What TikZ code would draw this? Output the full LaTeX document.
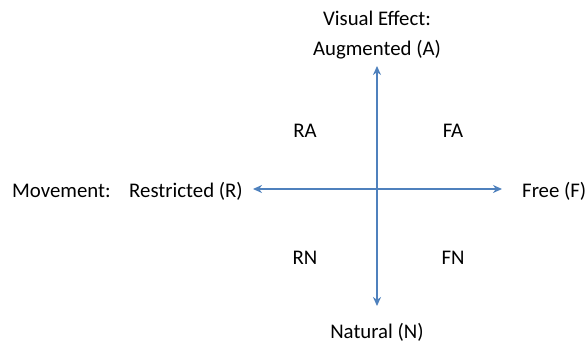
\documentclass[tikz,border=0pt]{standalone}
\usepackage{fontspec}
\setmainfont{Carlito}
\usetikzlibrary{arrows.meta}
\definecolor{axisblue}{HTML}{4F81BD}
\begin{document}
\begin{tikzpicture}[x=1pt,y=-1pt,
  lbl/.style={font=\fontsize{20.8}{24}\selectfont, inner sep=0pt},
  axis/.style={draw=axisblue, line width=1.8pt, {Stealth[length=9pt,width=8pt]}-{Stealth[length=9pt,width=8pt]}}]
\useasboundingbox (0,0) rectangle (587,347);
\node[lbl] (ve) at (377,18) {Visual Effect:};
\node[lbl] (aug) at (377,50) {Augmented (A)};
\node[lbl] (nat) at (377,332) {Natural (N)};
\node[lbl, anchor=west] (mov) at (12,191) {Movement:};
\node[lbl, anchor=east] (res) at (243,191) {Restricted (R)};
\node[lbl, anchor=west] (free) at (522,191) {Free (F)};
\node[lbl] (ra) at (305,131) {RA};
\node[lbl] (fa) at (453,131) {FA};
\node[lbl] (rn) at (305,258) {RN};
\node[lbl] (fn) at (453,258) {FN};
\coordinate (top) at (377,66);
\coordinate (bot) at (377,306);
\coordinate (lft) at (253,189);
\coordinate (rgt) at (502,189);
\draw[axis] (top) -- (bot);
\draw[axis] (lft) -- (rgt);
\end{tikzpicture}
\end{document}
